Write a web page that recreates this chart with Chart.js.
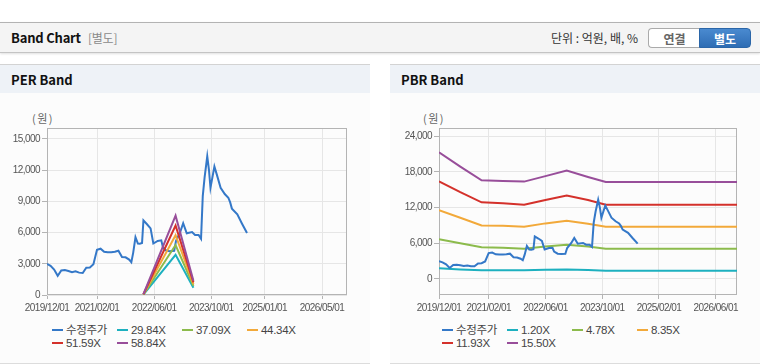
<!DOCTYPE html>
<html>
<head>
<meta charset="utf-8">
<script src="https://cdn.jsdelivr.net/npm/chart.js@4.4.0/dist/chart.umd.min.js"></script>
<style>
  html,body{margin:0;padding:0;background:#fff;}
  body{width:760px;height:364px;position:relative;overflow:hidden;font-family:"Noto Sans CJK KR","Noto Sans",sans-serif;}
  .topbar{position:absolute;left:0;top:22px;width:760px;height:29px;background:#f4f4f4;border-top:1px solid #b3b3b3;border-bottom:1px solid #c4c4c4;box-shadow:0 1px 2px rgba(0,0,0,0.12);}
  .title{position:absolute;left:11px;top:5px;font-size:13px;font-weight:bold;color:#111;letter-spacing:-0.2px;}
  .title span{font-weight:normal;color:#8a8a8a;font-size:12px;margin-left:7px;}
  .unit{position:absolute;left:551px;top:6px;font-size:12px;color:#333;}
  .btn{position:absolute;top:5px;height:20px;line-height:19px;font-size:12px;font-weight:bold;text-align:center;box-sizing:border-box;}
  .btn1{left:648px;width:52px;background:#fff;border:1px solid #aaa;border-right:none;border-radius:4px 0 0 4px;color:#666;}
  .btn2{left:699px;width:52px;background:linear-gradient(#4a8ad0,#2e6db4);border:1px solid #2b66a8;border-radius:0 4px 4px 0;color:#fff;}
  .panel{position:absolute;top:64px;width:370px;height:298px;background:#fcfcfc;border-top:1px solid #d3d3d3;border-bottom:1px solid #dcdcdc;}
  .phead{position:absolute;left:0;top:0;width:370px;height:28px;background:#eef2f7;}
  .phead div{position:absolute;left:11px;top:5px;font-size:13px;font-weight:bold;color:#111;}
  canvas{position:absolute;}
  .unitlbl{position:absolute;font-size:11px;color:#666;letter-spacing:1.5px;}
  .lg{position:absolute;font-size:11.5px;color:#444;white-space:nowrap;height:14px;line-height:14px;font-family:"Liberation Sans","Noto Sans CJK KR",sans-serif;letter-spacing:-0.3px;}
  .lg i{display:inline-block;width:11px;height:2px;vertical-align:middle;margin-right:3px;position:relative;top:-1px;}
</style>
</head>
<body>
<div class="topbar">
  <div class="title">Band Chart<span>[별도]</span></div>
  <div class="unit">단위 : 억원, 배, %</div>
  <div class="btn btn1">연결</div>
  <div class="btn btn2">별도</div>
</div>
<div class="panel" style="left:0;"><div class="phead"><div>PER Band</div></div></div>
<div class="panel" style="left:390px;"><div class="phead"><div>PBR Band</div></div></div>
<div class="unitlbl" style="left:32px;top:110px;">(원)</div>
<div class="unitlbl" style="left:423px;top:110px;">(원)</div>
<canvas id="per" width="370" height="220" style="left:0;top:100px;"></canvas>
<canvas id="pbr" width="370" height="220" style="left:390px;top:100px;"></canvas>
<div id="legends"></div>
<script>
// ---------- DATA ----------
const priceName = '수정주가';
const priceDates = ['2019/12/01','2020/01/01','2020/02/01','2020/03/01','2020/04/01','2020/05/01','2020/06/01','2020/07/01','2020/08/01','2020/09/01','2020/10/01','2020/11/01','2020/12/01','2021/01/01','2021/02/01','2021/03/01','2021/04/01','2021/05/01','2021/06/01','2021/07/01','2021/08/01','2021/09/01','2021/10/01','2021/11/01','2021/11/20','2021/12/05','2021/12/25','2022/01/15','2022/02/01','2022/02/20','2022/03/01','2022/04/01','2022/05/01','2022/05/25','2022/07/01','2022/08/01','2022/08/15','2022/09/15','2022/10/15','2022/11/20','2022/12/05','2023/01/10','2023/02/05','2023/03/05','2023/04/20','2023/05/15','2023/06/15','2023/07/05','2023/07/20','2023/08/05','2023/08/28','2023/09/12','2023/09/25','2023/10/28','2023/11/20','2023/12/20','2024/01/25','2024/02/25','2024/03/10','2024/03/25','2024/05/10','2024/06/20','2024/08/01'];
const priceValues = [2980,2800,2450,1850,2350,2400,2300,2200,2280,2150,2120,2620,2650,2950,4350,4450,4150,4100,4100,4150,4250,3650,3620,3400,3150,4050,5550,4950,4930,5000,7170,6800,6400,4950,5200,5250,4600,4250,4200,4250,5200,6050,6900,5930,6050,5760,5760,5400,9500,11300,13330,12000,10300,12350,11500,10300,9700,9350,8900,8300,7750,6850,5950];

const perNames = ['29.84X','37.09X','44.34X','51.59X','58.84X'];
const perDates = ['2022/03/01','2022/12/01','2023/05/01'];
const per2984 = [40, 3860, 700];
const per3709 = [50, 4800, 870];
const per4434 = [60, 5740, 1040];
const per5159 = [70, 6680, 1210];
const per5884 = [80, 7620, 1380];

const pbrNames = ['1.20X','4.78X','8.35X','11.93X','15.50X'];
const pbrDates = ['2019/12/01','2020/06/01','2020/12/01','2021/06/01','2021/12/01','2022/06/01','2022/12/01','2023/06/01','2023/11/01','2026/12/01'];
const pbr120  = [1800, 1600, 1450, 1450, 1450, 1550, 1600, 1500, 1400, 1400];
const pbr478  = [6700, 6000, 5350, 5250, 5100, 5450, 5750, 5450, 5100, 5100];
const pbr835  = [11550, 10300, 9000, 8950, 8780, 9350, 9800, 9300, 8780, 8780];
const pbr1193 = [16400, 14600, 12900, 12750, 12500, 13300, 14050, 13300, 12500, 12500];
const pbr1550 = [21300, 18900, 16600, 16500, 16380, 17300, 18250, 17150, 16300, 16300];

const perXTicks = ['2019/12/01','2021/02/01','2022/06/01','2023/10/01','2025/01/01','2026/05/01'];
const pbrXTicks = ['2019/12/01','2021/02/01','2022/06/01','2023/10/01','2025/02/01','2026/06/01'];
const perYTicks = [0,3000,6000,9000,12000,15000];
const pbrYTicks = [0,6000,12000,18000,24000];
const xStart = '2019/12/01', xEnd = '2026/12/01';
const perYRange = [0, 16050];
const pbrYRange = [-2700, 25400];

// ---------- STYLE ----------
const priceColor = '#3478c8';
const bandColors = ['#1db0bf','#8cbb4c','#f2a93a','#d4312b','#984e9a'];
const tickFont = {family:"'Liberation Sans',Arial,sans-serif", size:10};

function monthIndex(d){
  const [y,m,dd] = d.split('/').map(Number);
  const [y0,m0] = xStart.split('/').map(Number);
  return (y-y0)*12 + (m-m0) + (dd-1)/31;
}
function pts(dates, vals){ return dates.map((d,i)=>({x:monthIndex(d), y:vals[i]})); }

const boxPlugin = {
  id:'plotBox',
  beforeDraw(chart){ try{ chart.ctx.letterSpacing='-0.55px'; }catch(e){} },
  beforeDatasetsDraw(chart){
    const a = chart.chartArea, c = chart.ctx;
    c.save(); c.strokeStyle='#b4b4b4'; c.lineWidth=1;
    c.strokeRect(Math.round(a.left)+0.5, Math.round(a.top)+0.5, Math.round(a.right-a.left)-1, Math.round(a.bottom-a.top)-1);
    c.restore();
  }
};

function makeChart(id, datasets, yRange, yTicks, xTicks, yWidth){
  return new Chart(document.getElementById(id), {
    type:'line',
    data:{datasets},
    plugins:[boxPlugin],
    options:{
      responsive:false, animation:false, devicePixelRatio:1,
      layout:{padding:{top:28,right:23,left:0,bottom:0}},
      plugins:{legend:{display:false}, tooltip:{enabled:false}},
      elements:{point:{radius:0}, line:{borderWidth:2, tension:0}},
      scales:{
        x:{type:'linear', min:monthIndex(xStart), max:monthIndex(xEnd),
          afterBuildTicks:ax=>{ax.ticks = xTicks.map(d=>({value:monthIndex(d)}));},
          afterFit:ax=>{ax.height=25;},
          grid:{color:'#e6e6e6', tickColor:'#b4b4b4', tickLength:4},
          border:{display:false},
          ticks:{autoSkip:false, maxRotation:0, padding:3, color:'#555', font:tickFont, callback:(v,i)=>xTicks[i]}
        },
        y:{type:'linear', min:yRange[0], max:yRange[1],
          afterBuildTicks:ax=>{ax.ticks = yTicks.map(v=>({value:v}));},
          afterFit:ax=>{ax.width=yWidth;},
          grid:{color:'#e6e6e6', tickColor:'#b4b4b4', tickLength:5},
          border:{display:false},
          ticks:{padding:2, color:'#555', font:tickFont, callback:v=>v.toLocaleString('en-US')}
        }
      }
    }
  });
}

const perBands = [per2984, per3709, per4434, per5159, per5884];
const perSets = [{label:priceName, data:pts(priceDates, priceValues), borderColor:priceColor, order:9}]
  .concat(perBands.map((b,i)=>({label:perNames[i], data:pts(perDates,b), borderColor:bandColors[i], order:5-i})));
makeChart('per', perSets, perYRange, perYTicks, perXTicks, 47);

const pbrBands = [pbr120, pbr478, pbr835, pbr1193, pbr1550];
const pbrSets = [{label:priceName, data:pts(priceDates, priceValues), borderColor:priceColor, order:0}]
  .concat(pbrBands.map((b,i)=>({label:pbrNames[i], data:pts(pbrDates,b), borderColor:bandColors[i], order:6-i})));
makeChart('pbr', pbrSets, pbrYRange, pbrYTicks, pbrXTicks, 49);

// ---------- LEGENDS (HTML) ----------
function legend(x0, names){
  const all = [priceName].concat(names);
  const cols = [priceColor].concat(bandColors);
  const host = document.getElementById('legends');
  all.forEach((n,i)=>{
    const el = document.createElement('div');
    el.className='lg';
    el.style.left = (x0 + (i%4)*65) + 'px';
    el.style.top = (323 + Math.floor(i/4)*13) + 'px';
    el.innerHTML = '<i style="background:'+cols[i]+'"></i>'+n;
    host.appendChild(el);
  });
}
legend(52, perNames);
legend(442, pbrNames);
</script>
</body>
</html>
